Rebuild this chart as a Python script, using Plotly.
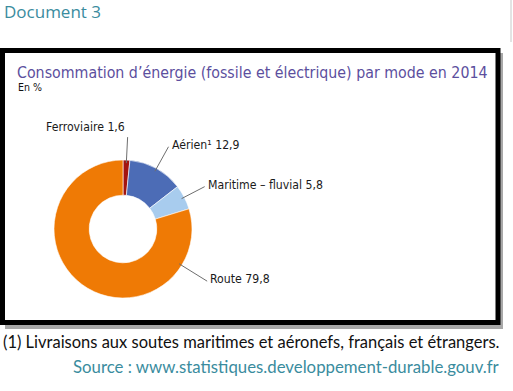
import math
import plotly.graph_objects as go

# ---- data ----
modes = ["Ferroviaire", "Aérien¹", "Maritime – fluvial", "Route"]
shares = [1.6, 12.9, 5.8, 79.8]
share_labels = ["1,6", "12,9", "5,8", "79,8"]
colors = ["#A3140F", "#4C6CB6", "#A8CCEE", "#EF7A05"]

W, H = 513, 391
# pie geometry (pixels)
CX, CY, R = 123, 229, 69
HOLE = 0.49

def px(x):
    return x / W

def py(y):
    return 1 - y / H

fig = go.Figure()

# framed box with shadow
fig.add_shape(type="rect", xref="paper", yref="paper",
              x0=px(5), x1=px(503), y0=py(329), y1=py(53),
              fillcolor="#a8a8a8", line=dict(width=0), layer="below")
fig.add_shape(type="rect", xref="paper", yref="paper",
              x0=px(2.5), x1=px(498), y0=py(322.5), y1=py(50.5),
              fillcolor="white", line=dict(color="black", width=5), layer="below")
fig.add_shape(type="line", xref="paper", yref="paper",
              x0=px(511), x1=px(511), y0=py(0), y1=py(42),
              line=dict(color="#c8c8c8", width=1), layer="below")

fig.add_trace(go.Pie(
    labels=modes, values=shares, sort=False, direction="clockwise", rotation=0,
    hole=HOLE, marker=dict(colors=colors, line=dict(color="white", width=0.6)),
    textinfo="none", hoverinfo="label+value", showlegend=False,
    domain=dict(x=[px(CX - R), px(CX + R)], y=[py(CY + R), py(CY - R)]),
))

# leader lines & labels derived from slice angles
total = sum(shares)
label_pos = [0.5, 0.5, 0.5, 0.17]        # fraction within slice where leader starts
r_out = [92, 94, 92, 99]
sides = ["left", "right", "right", "right"]
annotations = []
cum = 0
for i, v in enumerate(shares):
    ang = (cum + v * label_pos[i]) / total * 2 * math.pi
    cum += v
    sx, sy = CX + 66 * math.sin(ang), CY - 66 * math.cos(ang)
    ex, ey = CX + r_out[i] * math.sin(ang), CY - r_out[i] * math.cos(ang)
    fig.add_shape(type="line", xref="paper", yref="paper",
                  x0=px(sx), y0=py(sy), x1=px(ex), y1=py(ey),
                  line=dict(color="#6e6e6e", width=1))
    txt = f"{modes[i]} {share_labels[i]}"
    if sides[i] == "left":
        annotations.append(dict(x=px(ex - 1), y=py(ey - 1), text=txt,
                                xanchor="right", yanchor="bottom"))
    else:
        annotations.append(dict(x=px(ex + 1), y=py(ey - 2), text=txt,
                                xanchor="left", yanchor="middle"))

cond = "DejaVu Sans Condensed, Liberation Sans Narrow, sans-serif"
lab_font = dict(family=cond, size=12.2, color="#1a1a1a")
for a in annotations:
    a.update(xref="paper", yref="paper", showarrow=False, font=lab_font)

teal = "#3A8C9E"
annotations += [
    dict(x=px(2), y=py(11.5), text="Document 3", xanchor="left", yanchor="middle",
         font=dict(family="Open Sans, sans-serif", size=17, color=teal)),
    dict(x=px(15), y=py(72), text="Consommation d’énergie (fossile et électrique) par mode en 2014",
         xanchor="left", yanchor="middle",
         font=dict(family=cond, size=15.8, color="#5C4F9E")),
    dict(x=px(16), y=py(87), text="En %", xanchor="left", yanchor="middle",
         font=dict(family=cond, size=10.5, color="#111111")),
    dict(x=px(1), y=py(342), text="(1) Livraisons aux soutes maritimes et aéronefs, français et étrangers.",
         xanchor="left", yanchor="middle",
         font=dict(family="Lato, sans-serif", size=16.5, color="#111111")),
    dict(x=px(501), y=py(366), text="Source : www.statistiques.developpement-durable.gouv.fr",
         xanchor="right", yanchor="middle",
         font=dict(family="Lato, sans-serif", size=16.8, color=teal)),
]
for a in annotations:
    a.setdefault("xref", "paper")
    a.setdefault("yref", "paper")
    a.setdefault("showarrow", False)

fig.update_layout(width=W, height=H, margin=dict(l=0, r=0, t=0, b=0),
                  paper_bgcolor="white", plot_bgcolor="white",
                  annotations=annotations)

fig.write_html("out.html", config={"displayModeBar": False},
               post_script="document.body.style.margin='0';document.body.style.overflow='hidden';")
